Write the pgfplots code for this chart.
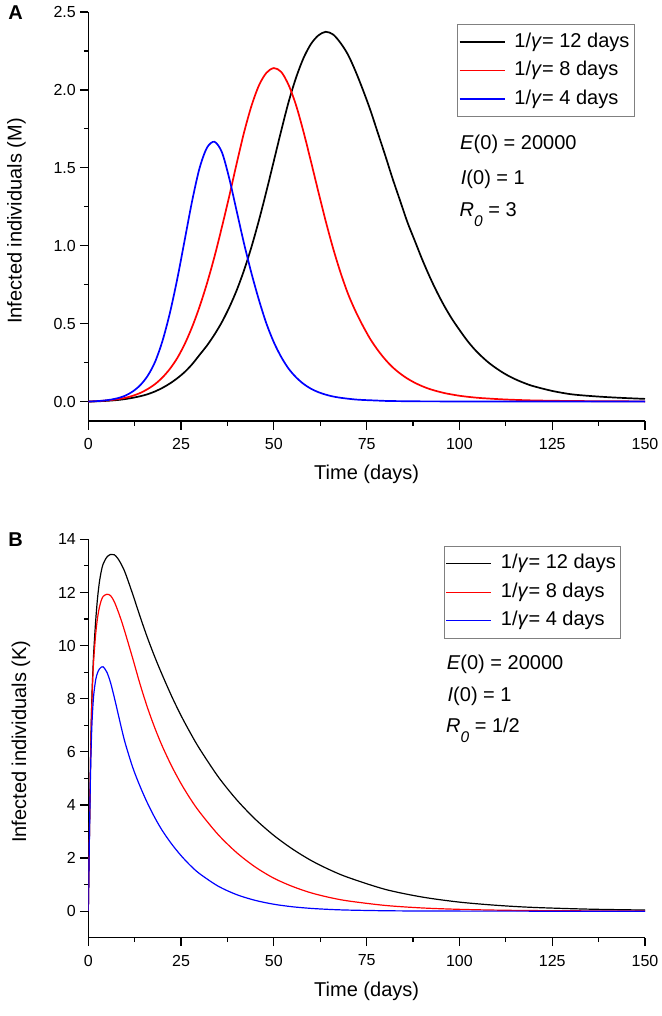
\documentclass[border=0pt]{standalone}
\usepackage{fontspec}
\setmainfont{Liberation Sans}
\usepackage{pgfplots}
\usepackage{pgfplotstable}
\pgfplotsset{compat=1.18}

\newcommand\tickfont{\fontsize{16}{19}\selectfont}
\newcommand\labfont{\fontsize{20}{24}\selectfont}
\newcommand\subfont{\fontsize{15.5}{16}\selectfont}

% panel A: infected (millions), R0 = 3
\pgfplotstableread{
t    g12    g8     g4
0    0      0      0
2    0.001  0.002  0.002
4    0.003  0.005  0.006
6    0.006  0.009  0.012
8    0.01   0.015  0.022
10   0.016  0.024  0.038
12   0.024  0.037  0.065
14   0.034  0.055  0.105
16   0.047  0.08   0.165
18   0.065  0.112  0.255
20   0.088  0.155  0.39
22   0.116  0.21   0.57
24   0.15   0.28   0.79
26   0.19   0.37   1.04
28   0.24   0.48   1.29
30   0.30   0.61   1.50
32   0.36   0.76   1.63
34   0.43   0.93   1.667
36   0.51   1.12   1.60
38   0.605  1.32   1.43
40   0.715  1.53   1.22
42   0.845  1.73   1.01
44   0.995  1.90   0.82
46   1.165  2.03   0.65
48   1.35   2.11   0.50
50   1.545  2.14   0.38
52   1.74   2.115  0.285
54   1.925  2.03   0.21
56   2.08   1.90   0.155
58   2.205  1.73   0.113
60   2.295  1.54   0.082
62   2.35   1.345  0.06
64   2.373  1.155  0.044
66   2.355  0.98   0.032
68   2.30   0.825  0.024
70   2.225  0.69   0.018
72   2.12   0.58   0.013
74   2.00   0.485  0.01
76   1.87   0.40   0.008
78   1.725  0.33   0.006
80   1.58   0.27   0.004
82   1.43   0.22   0.003
84   1.29   0.18   0.0025
86   1.15   0.147  0.002
88   1.03   0.12   0.0015
90   0.91   0.098  0.001
92   0.80   0.08   0.001
94   0.70   0.066  0.001
96   0.61   0.054  0.0005
98   0.53   0.045  0.0005
100  0.46   0.037  0
102  0.394  0.031  0
104  0.337  0.026  0
106  0.289  0.022  0
108  0.247  0.019  0
110  0.212  0.016  0
112  0.181  0.0135 0
114  0.155  0.0115 0
116  0.133  0.0098 0
118  0.114  0.0083 0
120  0.098  0.007  0
125  0.068  0.005  0
130  0.047  0.0035 0
135  0.036  0.0025 0
140  0.028  0.0018 0
145  0.022  0.0012 0
150  0.017  0.0008 0
}\dataA

% panel B: infected (thousands), R0 = 1/2
\pgfplotstableread{
t    g12    g8     g4
0    0      0      0
0.2  1.9    1.9    1.85
0.4  3.8    3.8    3.6
0.6  5.65   5.6    5.2
0.8  7.1    7.0    6.3
1    8.2    8.0    7.1
1.25 9.1    8.9    7.75
1.5  9.85   9.55   8.2
2    10.95  10.45  8.72
2.5  11.8   11.05  8.98
3    12.4   11.45  9.12
3.5  12.8   11.7   9.19
4    13.07  11.85  9.2
5    13.33  11.93  9.0
6    13.43  11.88  8.6
7    13.42  11.65  8.05
8    13.27  11.3   7.45
9    13.03  10.9   6.85
10   12.72  10.45  6.3
12   11.92  9.5    5.4
14   11.07  8.52   4.68
16   10.27  7.64   4.05
18   9.54   6.87   3.5
20   8.87   6.19   3.02
22.5 8.08   5.45   2.52
25   7.36   4.8    2.09
27.5 6.71   4.23   1.72
30   6.11   3.73   1.41
35   5.06   2.88   0.94
40   4.19   2.2    0.62
45   3.46   1.66   0.405
50   2.85   1.24   0.26
55   2.34   0.93   0.165
60   1.91   0.69   0.104
65   1.56   0.515  0.065
70   1.27   0.385  0.04
80   0.82   0.215  0.015
90   0.53   0.12   0.0055
100  0.34   0.068  0.002
110  0.22   0.038  0.001
120  0.14   0.022  0
135  0.075  0.01   0
150  0.042  0.005  0
}\dataB

\pgfplotsset{
  panel/.style={
    scale only axis, width=556.7pt, anchor=south west,
    xmin=0, xmax=150, xtick={0,25,...,150},
    minor x tick num=1, minor y tick num=1,
    axis lines*=left, axis line style={line width=1.5pt},
    tick align=outside, major tick length=8.5pt, minor tick length=4.5pt,
    every tick/.style={line width=1.2pt, black},
    tick label style={font=\tickfont},
    /pgf/number format/assume math mode=true,
    xticklabel style={inner sep=0pt, yshift=-8.5pt},
    yticklabel style={inner sep=0pt, xshift=-3.8pt},
    label style={font=\labfont},
    xlabel={Time (days)},
    legend cell align=left,
    legend image code/.code={\draw[#1] (0pt,0pt) -- (45pt,0pt);},
    legend style={anchor=north west, draw=gray, line width=0.8pt,
      font=\labfont, inner xsep=1pt, inner ysep=3pt, row sep=0pt,
      column sep=5pt,
      nodes={inner xsep=4pt, inner ysep=5pt, text height=14.5pt, text depth=4pt}},
  },
}
\tikzset{note/.style={anchor=base west, font=\labfont, inner sep=0pt}}

\begin{document}
\begin{tikzpicture}
\useasboundingbox (0pt,0pt) rectangle (661pt,-1016pt);

\node[anchor=base west, inner sep=0pt, font=\labfont\bfseries] at (8.3pt,-20pt) {A};
\node[anchor=base west, inner sep=0pt, font=\labfont\bfseries] at (8.3pt,-546.7pt) {B};

\begin{axis}[panel, at={(88.3pt,-421pt)}, height=409pt,
    ymin=-0.125, ymax=2.5, ytick={0,0.5,...,2.5},
    yticklabel style={/pgf/number format/.cd, fixed, fixed zerofill, precision=1},
    ylabel={Infected individuals (M)},
    xlabel style={at={(axis description cs:0.5,-0.1425)}, anchor=base},
    ylabel style={at={(axis description cs:-0.1196,0.489)}, anchor=base},
    legend style={at={(0.663,0.970)}}]
  \addplot[black, line width=1.7pt, smooth] table[x=t, y=g12] {\dataA};
  \addlegendentry{1/\textit{γ}= 12 days}
  \addplot[red, line width=1.7pt, smooth] table[x=t, y=g8] {\dataA};
  \addlegendentry{1/\textit{γ}= 8 days}
  \addplot[blue, line width=1.7pt, smooth] table[x=t, y=g4] {\dataA};
  \addlegendentry{1/\textit{γ}= 4 days}
  \node[note] at (rel axis cs:0.6677,0.6626) {\textit{E}(0) = 20000};
  \node[note] at (rel axis cs:0.669,0.5782) {\textit{I}(0) = 1};
  \node[note] at (rel axis cs:0.6668,0.5012) {\textit{R}\raisebox{-10pt}{\subfont\textit{0}} = 3};
\end{axis}

\begin{axis}[panel, at={(88.3pt,-937.7pt)}, height=398.4pt,
    ymin=-1, ymax=14, ytick={0,2,...,14},
    ylabel={Infected individuals (K)},
    xlabel style={at={(axis description cs:0.5,-0.1471)}, anchor=base},
    ylabel style={at={(axis description cs:-0.1119,0.492)}, anchor=base},
    legend style={at={(0.6395,0.983)}}]
  \addplot[black, line width=1.2pt, smooth] table[x=t, y=g12] {\dataB};
  \addlegendentry{1/\textit{γ}= 12 days}
  \addplot[red, line width=1.2pt, smooth] table[x=t, y=g8] {\dataB};
  \addlegendentry{1/\textit{γ}= 8 days}
  \addplot[blue, line width=1.2pt, smooth] table[x=t, y=g4] {\dataB};
  \addlegendentry{1/\textit{γ}= 4 days}
  \node[note] at (rel axis cs:0.6438,0.6737) {\textit{E}(0) = 20000};
  \node[note] at (rel axis cs:0.6452,0.5924) {\textit{I}(0) = 1};
  \node[note] at (rel axis cs:0.6425,0.5156) {\textit{R}\raisebox{-10pt}{\subfont\textit{0}} = 1/2};
\end{axis}
\end{tikzpicture}
\end{document}
